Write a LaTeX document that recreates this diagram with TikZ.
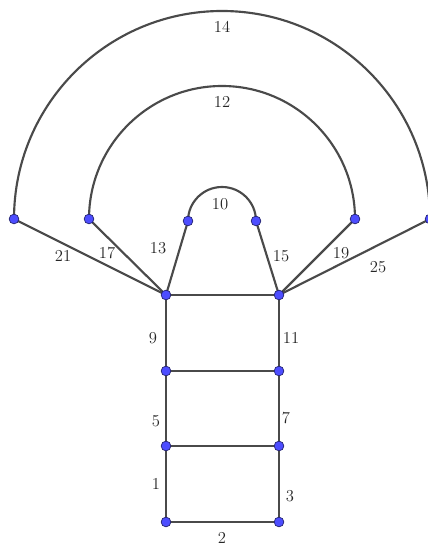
\documentclass[tikz,border=0pt]{standalone}
\usetikzlibrary{backgrounds}
\definecolor{edgegray}{HTML}{4A4A4A}
\definecolor{dotblue}{HTML}{4D4DFF}
\definecolor{dotrim}{HTML}{1F1F6B}
\begin{document}
\begin{tikzpicture}[x=0.75pt,y=0.75pt,
  dot/.style={circle,fill=dotblue,draw=dotrim,line width=0.5pt,inner sep=0pt,minimum size=7.3pt},
  edge/.style={draw=edgegray,line width=1.6pt},
  lab/.style={font=\fontsize{12.5}{14}\selectfont,text=black!85,inner sep=0pt}]
\useasboundingbox (0,0) rectangle (428,546);
% points
\node[dot] (a1) at (166,24) {};
\node[dot] (b1) at (279,24) {};
\node[dot] (a2) at (166,100) {};
\node[dot] (b2) at (279,100) {};
\node[dot] (a3) at (166,175) {};
\node[dot] (b3) at (279,175) {};
\node[dot] (a4) at (166,251) {};
\node[dot] (b4) at (279,251) {};
\node[dot] (p21) at (14,327) {};
\node[dot] (p25) at (430,327) {};
\node[dot] (p17) at (89,327) {};
\node[dot] (p19) at (355,327) {};
\node[dot] (p13) at (188,325) {};
\node[dot] (p15) at (256,325) {};
\begin{pgfonlayer}{background}
\draw[edge] (a1.center) -- (b1.center);
\draw[edge] (a1.center) -- (a2.center) -- (a3.center) -- (a4.center);
\draw[edge] (b1.center) -- (b2.center) -- (b3.center) -- (b4.center);
\draw[edge] (a2.center) -- (b2.center);
\draw[edge] (a3.center) -- (b3.center);
\draw[edge] (a4.center) -- (b4.center);
\draw[edge] (a4.center) -- (p21.center);
\draw[edge] (a4.center) -- (p17.center);
\draw[edge] (a4.center) -- (p13.center);
\draw[edge] (b4.center) -- (p15.center);
\draw[edge] (b4.center) -- (p19.center);
\draw[edge] (b4.center) -- (p25.center);
\draw[edge] (p21.center) arc[start angle=180,end angle=0,radius=156pt];
\draw[edge] (p17.center) arc[start angle=180,end angle=0,radius=99.75pt];
\draw[edge] (p13.center) arc[start angle=180,end angle=0,radius=25.5pt];
\end{pgfonlayer}
% labels
\node[lab] at (222,519) {14};
\node[lab] at (222,444) {12};
\node[lab] at (220,342) {10};
\node[lab] at (63,290) {21};
\node[lab] at (107,293) {17};
\node[lab] at (158,298) {13};
\node[lab] at (281,290) {15};
\node[lab] at (341,293) {19};
\node[lab] at (378,279) {25};
\node[lab] at (153,208) {9};
\node[lab] at (291,208) {11};
\node[lab] at (156,125) {5};
\node[lab] at (286,128) {7};
\node[lab] at (156,62) {1};
\node[lab] at (290,50) {3};
\node[lab] at (222,8) {2};
\end{tikzpicture}
\end{document}
